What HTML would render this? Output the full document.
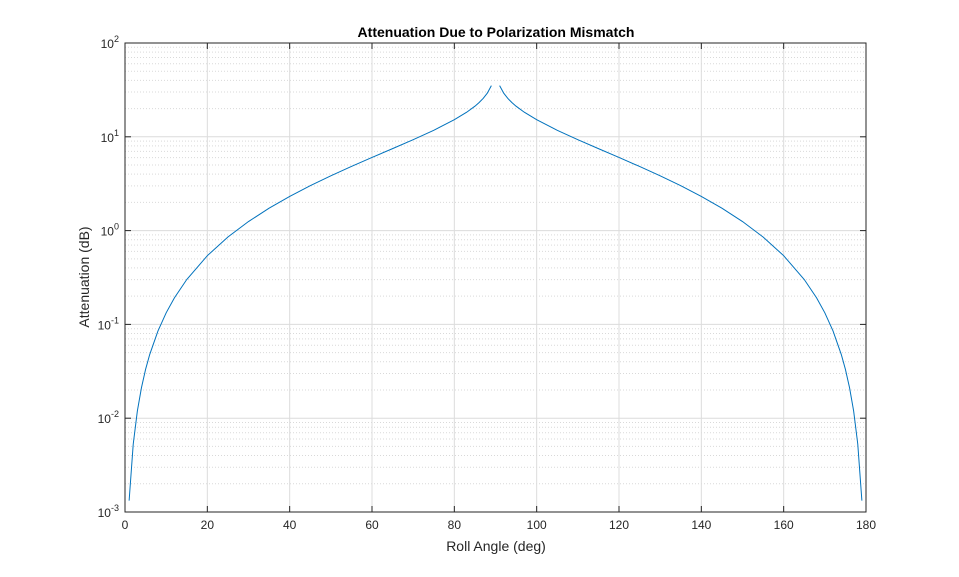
<!DOCTYPE html>
<html><head><meta charset="utf-8"><style>
body{margin:0;background:#fff;}
svg{display:block;font-family:"Liberation Sans",Arial,sans-serif;}
</style></head><body>
<svg id="chart" width="959" height="577" viewBox="0 0 959 577">
<rect x="0" y="0" width="959" height="577" fill="#fff"/>
<text x="496" y="37" text-anchor="middle" font-size="14" font-weight="bold" fill="#000">Attenuation Due to Polarization Mismatch</text>
<text x="496" y="551" text-anchor="middle" font-size="14" fill="#262626">Roll Angle (deg)</text>
<text transform="translate(89,277) rotate(-90)" text-anchor="middle" font-size="14" fill="#262626">Attenuation (dB)</text>
<g id="grid"></g><g id="series"></g><g id="axes"></g>
</svg>
<script>
const xTicks=[0,20,40,60,80,100,120,140,160,180];
const yExps=[-3,-2,-1,0,1,2];
const leftAngles=[1,2,3,4,5,6,8,10,12,15,20,25,30,35,40,45,50,55,60,65,70,75,80,83,85,86,87,88,89];
const leftValues=[0.001323,0.005293,0.01191,0.02118,0.03312,0.04771,0.08494,0.13297,0.1919,0.3011,0.5403,0.8545,1.2494,1.7327,2.315,3.0103,3.8386,4.828,6.0206,7.481,9.319,11.740,15.207,18.28,21.19,23.13,25.62,29.14,35.16];
const rightAngles=[91,92,93,94,95,97,100,105,110,115,120,125,130,135,140,145,150,155,160,165,168,170,172,174,175,176,177,178,179];
const rightValues=[35.16,29.14,25.62,23.13,21.19,18.28,15.207,11.740,9.319,7.481,6.0206,4.828,3.8386,3.0103,2.315,1.7327,1.2494,0.8545,0.5403,0.3011,0.1919,0.13297,0.08494,0.04771,0.03312,0.02118,0.01191,0.005293,0.001323];
const L=125,R=866,T=43,B=512;
const NS='http://www.w3.org/2000/svg';
const xs=v=>L+(v-0)/(180-0)*(R-L);
const ys=v=>B-(Math.log10(v)+3)/5*(B-T);
function mk(tag,attrs,parent){const e=document.createElementNS(NS,tag);for(const k in attrs)e.setAttribute(k,attrs[k]);parent.appendChild(e);return e;}
const grid=document.getElementById('grid'),axes=document.getElementById('axes'),series=document.getElementById('series');
for(let e=-3;e<2;e++)for(let m=2;m<=9;m++){const y=ys(m*Math.pow(10,e));
 const l=mk('line',{x1:L,x2:R,y1:y,y2:y,stroke:'#d9d9d9','stroke-width':1,'stroke-dasharray':'1,2'},grid);
 
 }
yExps.forEach(e=>{const y=ys(Math.pow(10,e));
 const l=mk('line',{x1:L,x2:R,y1:y,y2:y,stroke:'#dcdcdc','stroke-width':1},grid);
 
 
 const t=mk('text',{x:L-6,y:y+5,'text-anchor':'end','font-size':12,fill:'#262626'},axes);
 
 
 t.innerHTML='10<tspan font-size="9" dy="-6">'+e+'</tspan>';
 mk('line',{x1:L,x2:L+6,y1:y,y2:y,stroke:'#262626'},axes);
 mk('line',{x1:R,x2:R-6,y1:y,y2:y,stroke:'#262626'},axes);});
xTicks.forEach(v=>{const x=xs(v);
 const l=mk('line',{x1:x,x2:x,y1:T,y2:B,stroke:'#dcdcdc','stroke-width':1},grid);
 
 
 const t=mk('text',{x:x,y:B+17,'text-anchor':'middle','font-size':12,fill:'#262626'},axes);
 
 
 t.textContent=v;
 mk('line',{x1:x,x2:x,y1:B,y2:B-6,stroke:'#262626'},axes);
 mk('line',{x1:x,x2:x,y1:T,y2:T+6,stroke:'#262626'},axes);});
const box=mk('rect',{x:L,y:T,width:R-L,height:B-T,fill:'none',stroke:'#262626','stroke-width':1},axes);


function path(a,v){return a.map((x,i)=>(i?'L':'M')+xs(x).toFixed(2)+','+ys(v[i]).toFixed(2)).join('');}
const p1=mk('path',{d:path(leftAngles,leftValues),fill:'none',stroke:'#0072bd','stroke-width':1},series);


const p2=mk('path',{d:path(rightAngles,rightValues),fill:'none',stroke:'#0072bd','stroke-width':1},series);


</script>
</body></html>
